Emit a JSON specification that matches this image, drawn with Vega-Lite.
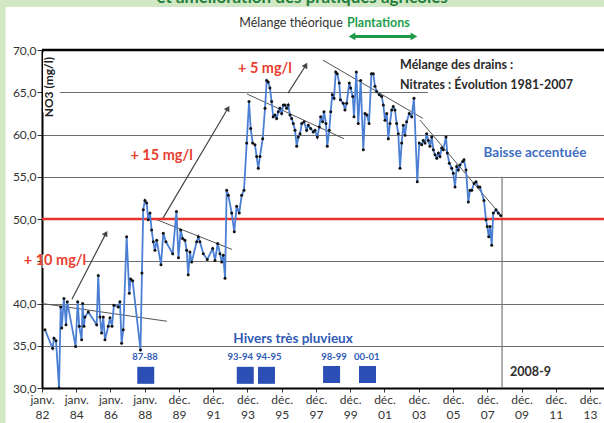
{
  "$schema": "https://vega.github.io/schema/vega-lite/v6.json",
  "autosize": "none",
  "width": 562,
  "height": 338,
  "padding": {"left": 42, "top": 50, "right": 0, "bottom": 35},
  "background": "white",
  "config": {"view": {"stroke": null}, "font": "Lato"},
  "datasets": {
    "no3": [
      {"d":"1982-03-13","v":36.9},{"d":"1982-08-24","v":34.7},{"d":"1982-09-22","v":35.9},{"d":"1982-11-04","v":35.6},{"d":"1983-01-07","v":30.0},{"d":"1983-02-12","v":39.6},{"d":"1983-03-05","v":37.1},{"d":"1983-04-21","v":40.6},{"d":"1983-06-05","v":37.5},{"d":"1983-07-01","v":40.2},{"d":"1983-12-26","v":34.9},{"d":"1984-02-08","v":40.2},{"d":"1984-03-12","v":37.3},{"d":"1984-05-02","v":35.7},{"d":"1984-05-23","v":40.0},{"d":"1984-06-20","v":37.3},{"d":"1984-07-11","v":38.4},{"d":"1984-09-20","v":39.0},{"d":"1985-03-17","v":37.5},{"d":"1985-04-20","v":43.3},{"d":"1985-05-26","v":38.4},{"d":"1985-07-01","v":36.5},{"d":"1985-08-05","v":38.4},{"d":"1985-09-10","v":35.7},{"d":"1985-11-20","v":37.3},{"d":"1985-12-25","v":38.3},{"d":"1986-02-06","v":37.3},{"d":"1986-03-19","v":39.8},{"d":"1986-06-19","v":39.6},{"d":"1986-07-25","v":40.2},{"d":"1986-08-30","v":35.3},{"d":"1986-10-04","v":36.9},{"d":"1986-12-15","v":47.9},{"d":"1987-02-09","v":41.2},{"d":"1987-03-11","v":42.9},{"d":"1987-04-21","v":42.7},{"d":"1987-10-05","v":34.5},{"d":"1987-11-05","v":43.6},{"d":"1987-12-03","v":51.1},{"d":"1988-01-08","v":52.2},{"d":"1988-02-14","v":51.9},{"d":"1988-03-18","v":49.9},{"d":"1988-04-24","v":50.7},{"d":"1988-05-29","v":48.7},{"d":"1988-07-03","v":47.3},{"d":"1988-08-08","v":46.3},{"d":"1988-09-14","v":47.5},{"d":"1988-12-14","v":44.6},{"d":"1989-02-01","v":48.3},{"d":"1989-03-29","v":47.3},{"d":"1989-08-19","v":45.9},{"d":"1989-11-08","v":50.9},{"d":"1989-12-21","v":45.4},{"d":"1990-02-06","v":48.7},{"d":"1990-03-19","v":47.7},{"d":"1990-05-07","v":47.5},{"d":"1990-06-13","v":46.3},{"d":"1990-07-16","v":43.4},{"d":"1990-08-22","v":46.1},{"d":"1990-09-28","v":44.9},{"d":"1991-01-12","v":47.3},{"d":"1991-02-16","v":47.9},{"d":"1991-03-22","v":47.3},{"d":"1991-06-01","v":45.9},{"d":"1991-08-25","v":45.2},{"d":"1991-12-18","v":46.5},{"d":"1992-02-06","v":45.1},{"d":"1992-04-03","v":47.1},{"d":"1992-05-21","v":45.9},{"d":"1992-06-27","v":44.9},{"d":"1992-07-30","v":45.7},{"d":"1992-09-06","v":43.0},{"d":"1992-10-11","v":53.4},{"d":"1992-11-15","v":52.8},{"d":"1993-01-26","v":50.7},{"d":"1993-03-21","v":48.5},{"d":"1993-05-11","v":51.5},{"d":"1993-07-05","v":50.7},{"d":"1993-08-26","v":52.8},{"d":"1993-10-14","v":53.4},{"d":"1993-12-11","v":59.0},{"d":"1994-01-29","v":63.9},{"d":"1994-03-06","v":60.7},{"d":"1994-04-16","v":59.0},{"d":"1994-06-04","v":58.8},{"d":"1994-07-10","v":57.4},{"d":"1994-08-14","v":56.0},{"d":"1994-09-19","v":57.4},{"d":"1994-11-16","v":59.5},{"d":"1995-01-04","v":63.1},{"d":"1995-02-09","v":66.4},{"d":"1995-03-13","v":66.2},{"d":"1995-04-19","v":65.5},{"d":"1995-05-24","v":63.9},{"d":"1995-06-28","v":62.1},{"d":"1995-08-03","v":62.3},{"d":"1995-09-08","v":61.9},{"d":"1995-10-13","v":62.7},{"d":"1995-11-18","v":63.1},{"d":"1995-12-24","v":62.5},{"d":"1996-01-28","v":63.5},{"d":"1996-03-04","v":63.5},{"d":"1996-04-08","v":63.1},{"d":"1996-05-12","v":63.5},{"d":"1996-06-18","v":62.3},{"d":"1996-07-24","v":61.9},{"d":"1996-08-27","v":61.3},{"d":"1996-10-03","v":60.5},{"d":"1996-11-08","v":58.6},{"d":"1996-12-12","v":59.7},{"d":"1997-01-18","v":60.1},{"d":"1997-02-23","v":61.3},{"d":"1997-04-12","v":61.5},{"d":"1997-06-07","v":60.5},{"d":"1997-07-12","v":61.1},{"d":"1997-09-01","v":60.7},{"d":"1997-10-26","v":60.3},{"d":"1997-12-02","v":60.5},{"d":"1998-01-20","v":59.7},{"d":"1998-03-04","v":60.9},{"d":"1998-04-01","v":62.1},{"d":"1998-05-13","v":61.5},{"d":"1998-06-11","v":62.7},{"d":"1998-07-23","v":61.3},{"d":"1998-08-20","v":58.6},{"d":"1998-10-01","v":60.5},{"d":"1998-11-01","v":62.7},{"d":"1998-12-05","v":64.7},{"d":"1999-01-10","v":64.3},{"d":"1999-02-16","v":67.4},{"d":"1999-03-19","v":67.2},{"d":"1999-05-01","v":66.1},{"d":"1999-05-27","v":64.1},{"d":"1999-07-25","v":63.7},{"d":"1999-08-31","v":62.9},{"d":"1999-10-06","v":63.7},{"d":"1999-12-01","v":66.1},{"d":"1999-12-30","v":65.5},{"d":"2000-02-12","v":64.5},{"d":"2000-03-10","v":62.1},{"d":"2000-04-28","v":67.4},{"d":"2000-06-09","v":61.3},{"d":"2000-07-30","v":66.4},{"d":"2000-09-24","v":58.2},{"d":"2000-10-30","v":62.5},{"d":"2000-12-12","v":62.3},{"d":"2001-01-24","v":61.3},{"d":"2001-03-16","v":67.2},{"d":"2001-04-24","v":67.2},{"d":"2001-05-30","v":65.7},{"d":"2001-07-05","v":65.1},{"d":"2001-08-30","v":64.7},{"d":"2001-10-20","v":64.5},{"d":"2001-11-24","v":63.5},{"d":"2001-12-29","v":61.7},{"d":"2002-02-04","v":62.5},{"d":"2002-03-10","v":59.5},{"d":"2002-04-14","v":61.3},{"d":"2002-05-20","v":62.9},{"d":"2002-06-23","v":63.3},{"d":"2002-07-29","v":62.9},{"d":"2002-09-03","v":61.3},{"d":"2002-10-08","v":60.1},{"d":"2002-11-14","v":56.0},{"d":"2002-12-19","v":59.0},{"d":"2003-01-23","v":61.1},{"d":"2003-02-28","v":59.9},{"d":"2003-04-03","v":61.5},{"d":"2003-05-29","v":62.5},{"d":"2003-07-19","v":62.1},{"d":"2003-09-06","v":64.3},{"d":"2003-11-16","v":54.4},{"d":"2003-12-28","v":59.0},{"d":"2004-02-18","v":58.8},{"d":"2004-03-22","v":59.3},{"d":"2004-04-28","v":59.0},{"d":"2004-06-03","v":60.1},{"d":"2004-07-07","v":59.3},{"d":"2004-08-12","v":58.6},{"d":"2004-09-18","v":59.7},{"d":"2004-10-22","v":58.2},{"d":"2004-11-27","v":57.6},{"d":"2005-01-03","v":57.2},{"d":"2005-02-06","v":57.8},{"d":"2005-03-12","v":57.4},{"d":"2005-04-18","v":58.4},{"d":"2005-05-21","v":58.2},{"d":"2005-07-18","v":59.7},{"d":"2005-08-15","v":57.8},{"d":"2005-09-27","v":56.6},{"d":"2005-11-17","v":56.0},{"d":"2005-12-21","v":55.4},{"d":"2006-01-26","v":53.8},{"d":"2006-03-03","v":56.2},{"d":"2006-04-06","v":55.8},{"d":"2006-05-11","v":56.4},{"d":"2006-07-08","v":56.8},{"d":"2006-08-05","v":57.0},{"d":"2006-09-17","v":55.8},{"d":"2006-11-05","v":52.0},{"d":"2006-12-11","v":53.4},{"d":"2007-01-17","v":53.4},{"d":"2007-03-07","v":54.2},{"d":"2007-04-17","v":54.4},{"d":"2007-06-04","v":53.8},{"d":"2007-07-10","v":53.8},{"d":"2007-10-04","v":52.2},{"d":"2007-11-16","v":49.9},{"d":"2007-12-13","v":49.1},{"d":"2008-01-13","v":47.9},{"d":"2008-02-10","v":49.1},{"d":"2008-03-16","v":46.9},{"d":"2008-04-19","v":50.7},{"d":"2008-06-16","v":51.1},{"d":"2008-08-03","v":50.7},{"d":"2008-09-24","v":50.4}
    ],
    "trends": [
      {"d":"1982-01-10","v":40.0,"d2":"1989-04-20","v2":37.9},
      {"d":"1988-08-08","v":50.0,"d2":"1993-02-01","v2":46.4},
      {"d":"1993-12-16","v":64.8,"d2":"1999-08-10","v2":59.5},
      {"d":"1998-05-19","v":68.8,"d2":"2004-03-16","v2":61.9},
      {"d":"2004-01-13","v":61.7,"d2":"2008-10-22","v2":50.3}
    ],
    "arrows": [
      {"d":"1983-10-09","v":40.5,"d2":"1985-10-01","v2":48.3},
      {"d":"1989-01-03","v":49.9,"d2":"1992-11-08","v2":63.1},
      {"d":"1996-05-07","v":64.9,"d2":"1997-05-22","v2":68.2}
    ],
    "heads": [
      {"d":"1985-10-01","v":48.3},
      {"d":"1992-11-08","v":63.1},
      {"d":"1997-05-22","v":68.2}
    ]
  },
  "encoding": {
    "x": {
      "field": "d", "type": "temporal", "title": null,
      "scale": {"type": "utc", "domain": [{"year":1982,"month":1,"date":10,"utc":true},{"year":2014,"month":9,"date":29,"utc":true}]},
      "axis": {
        "values": [
          {"year":1982,"month":1,"date":10,"utc":true},{"year":1984,"month":1,"date":8,"utc":true},{"year":1986,"month":1,"date":5,"utc":true},{"year":1988,"month":1,"date":2,"utc":true},{"year":1989,"month":12,"date":30,"utc":true},{"year":1991,"month":12,"date":28,"utc":true},{"year":1993,"month":12,"date":26,"utc":true},{"year":1995,"month":12,"date":24,"utc":true},{"year":1997,"month":12,"date":22,"utc":true},{"year":1999,"month":12,"date":20,"utc":true},{"year":2001,"month":12,"date":18,"utc":true},{"year":2003,"month":12,"date":16,"utc":true},{"year":2005,"month":12,"date":14,"utc":true},{"year":2007,"month":12,"date":12,"utc":true},{"year":2009,"month":12,"date":10,"utc":true},{"year":2011,"month":12,"date":8,"utc":true},{"year":2013,"month":12,"date":6,"utc":true}
        ],
        "labelExpr": "[utcFormat(datum.value, '%m') == '01' ? 'janv.' : 'déc.', utcFormat(datum.value, '%y')]",
        "grid": false,
        "domainColor": "#000000",
        "domainWidth": 2,
        "tickColor": "#333333",
        "tickSize": 4,
        "labelFont": "Lato",
        "labelFontSize": 12,
        "labelColor": "#333333",
        "labelLineHeight": 15,
        "labelPadding": 2,
        "labelFlush": false,
        "labelOverlap": false,
        "labelSeparation": 0
      }
    },
    "y": {
      "field": "v", "type": "quantitative", "title": null,
      "scale": {"domain": [30, 70], "nice": false, "zero": false},
      "axis": {
        "values": [30, 35, 40, 45, 50, 55, 60, 65, 70],
        "labelExpr": "datum.value == 45 ? '' : replace(format(datum.value, '.1f'), '.', ',')",
        "grid": true,
        "gridColor": "#6e6e6e",
        "gridWidth": 1.2,
        "domainColor": "#000000",
        "domainWidth": 2,
        "tickColor": "#333333",
        "tickSize": 5,
        "labelFont": "Lato",
        "labelFontSize": 12,
        "labelColor": "#333333",
        "labelPadding": 1
      }
    }
  },
  "layer": [
    {
      "data": {"values": [
        {"d":"1982-02-01","d2":"1983-01-25","v":62.6,"v2":69.7},
        {"d":"1982-01-20","d2":"1984-07-10","v":44.2,"v2":45.8},
        {"d":"2004-07-01","d2":"2015-06-01","v":64.3,"v2":69.5}
      ]},
      "mark": {"type": "rect", "color": "white"},
      "encoding": {"x2": {"field": "d2"}, "y2": {"field": "v2"}}
    },
    {
      "data": {"name": "trends"},
      "mark": {"type": "rule", "color": "#555555", "strokeWidth": 1},
      "encoding": {"x2": {"field": "d2"}, "y2": {"field": "v2"}}
    },
    {
      "data": {"name": "arrows"},
      "mark": {"type": "rule", "color": "#444444", "strokeWidth": 1.2},
      "encoding": {"x2": {"field": "d2"}, "y2": {"field": "v2"}}
    },
    {
      "data": {"name": "heads"},
      "mark": {"type": "point", "shape": "triangle-up", "angle": 30, "filled": true, "color": "#444444", "size": 40, "opacity": 1},
      "encoding": {}
    },
    {
      "data": {"values": [{"d":"2008-10-22","v":55,"v2":30}]},
      "mark": {"type": "rule", "color": "#777777", "strokeWidth": 1.2},
      "encoding": {"y2": {"field": "v2"}}
    },
    {
      "data": {"values": [{"d":"1982-01-10","d2":"2014-09-29","v":50}]},
      "mark": {"type": "rule", "color": "#e8322b", "strokeWidth": 2.5},
      "encoding": {"x2": {"field": "d2"}}
    },
    {
      "data": {"name": "no3"},
      "mark": {"type": "line", "color": "#4a7fd4", "strokeWidth": 1.8, "point": {"filled": true, "color": "#111111", "size": 9}},
      "encoding": {}
    },
    {
      "data": {"values": [{"d":"1982-01-10","d2":"2014-09-29","v":70}]},
      "mark": {"type": "rule", "color": "#000000", "strokeWidth": 2.5},
      "encoding": {"x2": {"field": "d2"}}
    },
    {
      "data": {"values": [
        {"d":"1988-01-25","v":31.5},{"d":"1993-11-10","v":31.5},{"d":"1995-02-04","v":31.5},{"d":"1998-11-19","v":31.6},{"d":"2000-12-22","v":31.6}
      ]},
      "mark": {"type": "point", "shape": "square", "filled": true, "color": "#2c4fb5", "size": 289, "opacity": 1},
      "encoding": {}
    },
    {
      "data": {"values": [
        {"d":"1988-01-10","v":33.7,"t":"87-88"},{"d":"1993-07-25","v":33.7,"t":"93-94"},{"d":"1995-03-25","v":33.7,"t":"94-95"},{"d":"1999-01-10","v":33.7,"t":"98-99"},{"d":"2000-12-07","v":33.7,"t":"00-01"}
      ]},
      "mark": {"type": "text", "font": "Lato", "fontWeight": "bold", "fontSize": 9.5, "color": "#2f5ab5", "align": "center", "baseline": "middle"},
      "encoding": {"text": {"field": "t"}}
    },
    {
      "data": {"values": [{"d":"1996-08-22","v":35.8,"t":"Hivers très pluvieux"}]},
      "mark": {"type": "text", "font": "Lato", "fontWeight": "bold", "fontSize": 13.5, "color": "#2f5ab5", "align": "center", "baseline": "middle"},
      "encoding": {"text": {"field": "t"}}
    },
    {
      "data": {"values": [{"d":"2010-09-22","v":57.8,"t":"Baisse accentuée"}]},
      "mark": {"type": "text", "font": "Lato", "fontWeight": "bold", "fontSize": 13.5, "color": "#3f6fc2", "align": "center", "baseline": "middle"},
      "encoding": {"text": {"field": "t"}}
    },
    {
      "data": {"values": [
        {"d":"1982-10-13","v":45.0,"t":"+ 10 mg/l"},{"d":"1988-12-28","v":57.4,"t":"+ 15 mg/l"},{"d":"1995-01-03","v":67.8,"t":"+ 5 mg/l"}
      ]},
      "mark": {"type": "text", "font": "Lato", "fontWeight": "bold", "fontSize": 14.5, "color": "#e8402f", "align": "center", "baseline": "middle"},
      "encoding": {"text": {"field": "t"}}
    },
    {
      "data": {"values": [
        {"d":"2002-11-14","v":68.2,"t":"Mélange des drains :"},{"d":"2002-11-14","v":65.9,"t":"Nitrates : Évolution 1981-2007"},{"d":"2009-04-10","v":31.9,"t":"2008-9"}
      ]},
      "mark": {"type": "text", "font": "Lato", "fontWeight": "bold", "fontSize": 12.5, "color": "#2b2b2b", "align": "left", "baseline": "middle"},
      "encoding": {"text": {"field": "t"}}
    },
    {
      "data": {"values": [{"d":"1982-06-15","v":65.6,"t":"NO3 (mg/l)"}]},
      "mark": {"type": "text", "font": "Lato", "fontWeight": "bold", "fontSize": 12, "color": "#222222", "align": "center", "baseline": "middle", "angle": 270},
      "encoding": {"text": {"field": "t"}}
    },
    {
      "data": {"values": [
        {"d":"1975-01-01","d2":"1979-11-27","v":20,"v2":80},
        {"d":"1975-01-01","d2":"2016-01-01","v":75.09,"v2":80}
      ]},
      "mark": {"type": "rect", "color": "#d2e7c4"},
      "encoding": {"x2": {"field": "d2"}, "y2": {"field": "v2"}}
    },
    {
      "data": {"values": [{"d":"1997-03-03","v":75.6,"t":"et amélioration des pratiques agricoles"}]},
      "mark": {"type": "text", "font": "Lato", "fontWeight": "bold", "fontSize": 17, "color": "#1d7f39", "align": "center", "baseline": "alphabetic"},
      "encoding": {"text": {"field": "t"}}
    },
    {
      "data": {"values": [{"d":"1999-07-19","v":73.2,"t":"Mélange théorique"}]},
      "mark": {"type": "text", "font": "Lato", "fontSize": 12.5, "color": "#333333", "align": "right", "baseline": "middle"},
      "encoding": {"text": {"field": "t"}}
    },
    {
      "data": {"values": [{"d":"1999-10-13","v":73.2,"t":"Plantations"}]},
      "mark": {"type": "text", "font": "Lato", "fontWeight": "bold", "fontSize": 12.5, "color": "#23a04c", "align": "left", "baseline": "middle"},
      "encoding": {"text": {"field": "t"}}
    },
    {
      "data": {"values": [{"d":"2000-03-01","d2":"2003-08-01","v":71.6}]},
      "mark": {"type": "rule", "color": "#1f9a48", "strokeWidth": 3},
      "encoding": {"x2": {"field": "d2"}}
    },
    {
      "data": {"values": [{"d":"2000-01-28","v":71.6}]},
      "mark": {"type": "point", "shape": "triangle-left", "filled": true, "color": "#1f9a48", "size": 60, "opacity": 1},
      "encoding": {}
    },
    {
      "data": {"values": [{"d":"2003-09-06","v":71.6}]},
      "mark": {"type": "point", "shape": "triangle-right", "filled": true, "color": "#1f9a48", "size": 60, "opacity": 1},
      "encoding": {}
    }
  ]
}
